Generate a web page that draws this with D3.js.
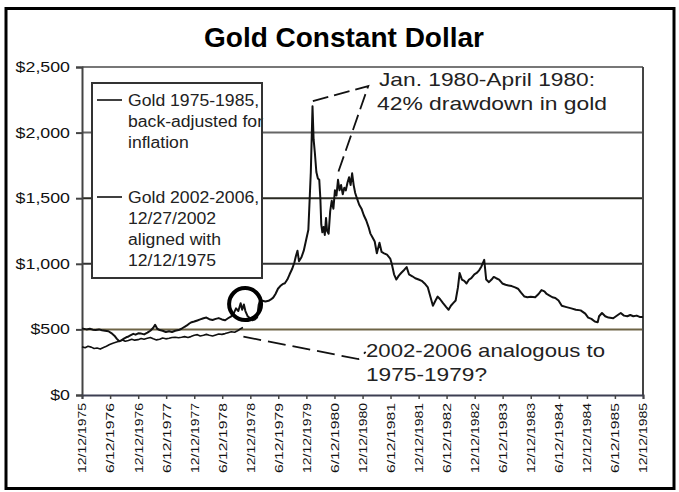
<!DOCTYPE html>
<html>
<head>
<meta charset="UTF-8">
<script src="https://d3js.org/d3.v7.min.js"></script>
<title>Gold Constant Dollar</title>
<style>
  html, body { margin:0; padding:0; background:#fff; }
  svg { display:block; font-family:"Liberation Sans", Arial, sans-serif; }
</style>
</head>
<body>
<div id="chart"></div>
<script>
// x axis labels, every 6 months
var xTickLabels = ["12/12/1975","6/12/1976","12/12/1976","6/12/1977","12/12/1977","6/12/1978",
  "12/12/1978","6/12/1979","12/12/1979","6/12/1980","12/12/1980","6/12/1981","12/12/1981",
  "6/12/1982","12/12/1982","6/12/1983","12/12/1983","6/12/1984","12/12/1984","6/12/1985","12/12/1985"];
var yTickValues = [0, 500, 1000, 1500, 2000, 2500];

// Gold 1975-1985, back-adjusted for inflation  [date, $]
var gold1975 = [
  ["1975-12-12",508],["1976-01-10",500],["1976-02-01",505],["1976-02-20",498],["1976-03-10",495],
  ["1976-04-01",500],["1976-04-20",494],["1976-05-10",490],["1976-06-01",486],["1976-06-20",472],
  ["1976-07-10",452],["1976-07-25",430],["1976-08-10",410],["1976-08-25",416],["1976-09-10",430],
  ["1976-09-25",440],["1976-10-10",446],["1976-10-25",456],["1976-11-10",466],["1976-11-25",460],
  ["1976-12-12",470],["1977-01-01",468],["1977-01-20",462],["1977-02-10",475],["1977-03-01",490],
  ["1977-03-20",512],["1977-04-01",535],["1977-04-15",505],["1977-05-01",495],["1977-05-20",490],
  ["1977-06-10",480],["1977-07-01",486],["1977-07-20",480],["1977-08-10",490],["1977-09-01",495],
  ["1977-09-20",505],["1977-10-10",520],["1977-10-25",530],["1977-11-10",545],["1977-11-25",555],
  ["1977-12-12",560],["1978-01-01",568],["1978-01-20",576],["1978-02-10",585],["1978-03-01",590],
  ["1978-03-20",578],["1978-04-10",572],["1978-05-01",580],["1978-05-20",586],["1978-06-10",576],
  ["1978-07-01",570],["1978-07-20",585],["1978-08-10",600],["1978-08-25",620],["1978-09-10",660],
  ["1978-09-25",640],["1978-10-10",700],["1978-10-20",650],["1978-10-31",690],["1978-11-10",640],
  ["1978-11-25",600],["1978-12-10",585],["1978-12-25",570],["1979-01-10",575],["1979-01-25",590],
  ["1979-02-05",690],["1979-02-15",725],["1979-03-01",718],["1979-03-20",712],["1979-04-10",718],
  ["1979-04-25",728],["1979-05-10",742],["1979-05-25",770],["1979-06-10",810],["1979-06-25",830],
  ["1979-07-10",845],["1979-07-25",852],["1979-08-10",880],["1979-08-25",920],["1979-09-10",960],
  ["1979-09-25",1010],["1979-10-05",1060],["1979-10-15",1100],["1979-10-25",1020],["1979-11-10",1050],
  ["1979-11-25",1100],["1979-12-10",1180],["1979-12-25",1260],["1980-01-10",1700],["1980-01-21",2200],
  ["1980-01-28",1950],["1980-02-05",1850],["1980-02-15",1700],["1980-02-25",1650],["1980-03-05",1640],
  ["1980-03-12",1500],["1980-03-18",1300],["1980-03-25",1240],["1980-04-02",1280],["1980-04-10",1220],
  ["1980-04-18",1350],["1980-04-25",1250],["1980-05-05",1230],["1980-05-15",1400],["1980-05-25",1480],
  ["1980-06-05",1420],["1980-06-15",1560],["1980-06-25",1520],["1980-07-05",1640],["1980-07-15",1560],
  ["1980-07-25",1600],["1980-08-05",1530],["1980-08-15",1580],["1980-08-25",1560],["1980-09-05",1620],
  ["1980-09-15",1660],["1980-09-25",1600],["1980-10-05",1690],["1980-10-15",1600],["1980-10-25",1540],
  ["1980-11-05",1500],["1980-11-20",1450],["1980-12-05",1420],["1980-12-20",1370],["1981-01-05",1330],
  ["1981-01-20",1280],["1981-02-01",1230],["1981-02-15",1200],["1981-03-01",1170],["1981-03-15",1080],
  ["1981-04-01",1160],["1981-04-15",1090],["1981-05-01",1080],["1981-05-20",1070],["1981-06-10",1040],
  ["1981-06-20",1000],["1981-07-05",920],["1981-07-20",880],["1981-08-05",910],["1981-08-20",930],
  ["1981-09-10",955],["1981-09-25",975],["1981-10-10",920],["1981-11-01",905],["1981-11-20",890],
  ["1981-12-12",880],["1982-01-01",870],["1982-01-20",850],["1982-02-10",820],["1982-03-01",740],
  ["1982-03-15",680],["1982-04-01",720],["1982-04-15",750],["1982-05-01",730],["1982-05-20",700],
  ["1982-06-10",670],["1982-06-25",650],["1982-07-10",680],["1982-07-25",700],["1982-08-10",720],
  ["1982-08-25",820],["1982-09-05",930],["1982-09-20",880],["1982-10-05",870],["1982-10-20",850],
  ["1982-11-05",880],["1982-11-20",890],["1982-12-10",920],["1982-12-25",930],["1983-01-10",950],
  ["1983-01-25",980],["1983-02-12",1030],["1983-02-25",880],["1983-03-15",860],["1983-04-01",880],
  ["1983-04-15",900],["1983-05-01",890],["1983-05-20",880],["1983-06-10",850],["1983-07-01",840],
  ["1983-07-20",835],["1983-08-10",830],["1983-09-01",820],["1983-09-20",810],["1983-10-10",780],
  ["1983-11-01",750],["1983-11-20",745],["1983-12-12",748],["1984-01-10",745],["1984-02-01",770],
  ["1984-02-20",800],["1984-03-10",790],["1984-03-25",770],["1984-04-10",760],["1984-05-01",745],
  ["1984-05-20",740],["1984-06-10",720],["1984-07-01",680],["1984-08-01",670],["1984-09-01",660],
  ["1984-10-01",650],["1984-11-01",645],["1984-12-01",620],["1984-12-20",590],["1985-01-10",580],
  ["1985-02-01",560],["1985-02-20",555],["1985-03-01",600],["1985-03-20",625],["1985-04-10",600],
  ["1985-05-01",590],["1985-06-01",585],["1985-07-01",610],["1985-07-20",625],["1985-08-10",605],
  ["1985-09-01",600],["1985-09-20",610],["1985-10-10",600],["1985-11-01",605],["1985-11-20",595],
  ["1985-12-12",595]
];

// Gold 2002-2006 (real dates); 12/27/2002 is aligned with 12/12/1975
var gold2002 = [
  ["2002-12-27",368],["2003-01-16",360],["2003-02-04",372],["2003-02-25",365],["2003-03-16",355],
  ["2003-04-04",358],["2003-04-25",350],["2003-05-16",362],["2003-06-04",372],["2003-06-25",385],
  ["2003-07-16",395],["2003-08-04",402],["2003-08-25",410],["2003-09-16",420],["2003-10-05",410],
  ["2003-10-25",415],["2003-11-16",425],["2003-12-05",418],["2003-12-27",422],["2004-01-16",430],
  ["2004-02-04",425],["2004-02-25",432],["2004-03-16",438],["2004-04-04",428],["2004-04-25",420],
  ["2004-05-16",425],["2004-06-04",435],["2004-06-25",428],["2004-07-16",432],["2004-08-04",438],
  ["2004-08-25",440],["2004-09-16",436],["2004-10-05",440],["2004-10-25",445],["2004-11-16",438],
  ["2004-12-05",445],["2004-12-27",455],["2005-01-16",460],["2005-02-04",450],["2005-02-25",455],
  ["2005-03-16",462],["2005-04-04",456],["2005-04-25",450],["2005-05-16",458],["2005-06-04",465],
  ["2005-06-25",462],["2005-07-16",468],["2005-08-04",475],["2005-08-25",482],["2005-09-16",478],
  ["2005-10-05",490],["2005-10-25",505],["2005-11-09",515]
];
var alignFrom = "2002-12-27", alignTo = "1975-12-12";

// call-outs, in chart coordinates [date, $]
var drawdownCallout = [["1980-01-23",2240],["1981-01-18",2355],["1980-06-25",1660]];
var analogCallout = [["1978-10-28",445],["1980-11-15",274],["1981-01-01",328]];
var circleMark = ["1978-11-08",693];

var width = 679, height = 492;
var margin = {top: 67, right: 36, bottom: 97, left: 82};

var parseIso = d3.timeParse("%Y-%m-%d");
var parseTick = d3.timeParse("%m/%d/%Y");
var tickDates = xTickLabels.map(parseTick);
var shift = parseIso(alignFrom) - parseIso(alignTo);

var svg = d3.select("#chart").append("svg")
  .attr("width", width).attr("height", height);

var x = d3.scaleTime()
  .domain([tickDates[0], tickDates[tickDates.length - 1]])
  .range([margin.left, width - margin.right]);
var y = d3.scaleLinear()
  .domain([0, 2500])
  .range([height - margin.bottom, margin.top]);

// stretch text horizontally like the scanned original
function stretch(sel, k) {
  sel.each(function() {
    var w = this.getComputedTextLength();
    this.setAttribute("textLength", w * k);
    this.setAttribute("lengthAdjust", "spacingAndGlyphs");
  });
}

// outer frame
svg.append("rect")
  .attr("x", 6).attr("y", 8.5).attr("width", 668).attr("height", 480)
  .attr("fill", "none").attr("stroke", "#000").attr("stroke-width", 3);

// title
svg.append("text")
  .attr("x", 344).attr("y", 47)
  .attr("text-anchor", "middle")
  .style("font-size", "28px").style("font-weight", "bold")
  .text("Gold Constant Dollar");

// gridlines
var gridColors = {500: "#6e6446", 1000: "#333", 1500: "#2a2a22", 2000: "#666", 2500: "#777"};
svg.append("g").selectAll("line")
  .data(yTickValues.slice(1))
  .enter().append("line")
  .attr("x1", x.range()[0]).attr("x2", x.range()[1])
  .attr("y1", function(d) { return y(d); })
  .attr("y2", function(d) { return y(d); })
  .attr("stroke", function(d) { return gridColors[d]; })
  .attr("stroke-width", 2);

// right border of the plot
svg.append("line")
  .attr("x1", x.range()[1]).attr("x2", x.range()[1])
  .attr("y1", y(2500)).attr("y2", y(0))
  .attr("stroke", "#444").attr("stroke-width", 2);

// y axis
var yAxis = svg.append("g")
  .attr("transform", "translate(" + margin.left + ",0)")
  .call(d3.axisLeft(y).tickValues(yTickValues).tickSize(6).tickPadding(6)
    .tickFormat(function(d) { return "$" + d3.format(",")(d); }));
yAxis.select(".domain").attr("stroke", "#444").attr("stroke-width", 2);
yAxis.selectAll(".tick line").attr("stroke", "#444").attr("stroke-width", 2);
yAxis.selectAll("text")
  .style("font-size", "14px").style("font-family", "Liberation Sans, Arial, sans-serif")
  .attr("fill", "#111");
stretch(yAxis.selectAll("text"), 1.27);

// x axis
var xAxis = svg.append("g")
  .attr("transform", "translate(0," + y(0) + ")")
  .call(d3.axisBottom(x).tickValues(tickDates).tickSize(4)
    .tickFormat(function(d, i) { return xTickLabels[i]; }));
xAxis.select(".domain").attr("stroke", "#3c3f52").attr("stroke-width", 2);
xAxis.selectAll(".tick line").attr("stroke", "#444").attr("stroke-width", 1.5);
xAxis.selectAll("text")
  .attr("transform", "rotate(-90)")
  .attr("x", -8).attr("y", 0).attr("dy", "0.35em")
  .style("text-anchor", "end")
  .style("font-size", "11px").style("font-family", "Liberation Sans, Arial, sans-serif")
  .attr("fill", "#111")
  .attr("textLength", 70).attr("lengthAdjust", "spacingAndGlyphs");

// series
var line = d3.line()
  .x(function(d) { return x(d[0]); })
  .y(function(d) { return y(d[1]); });

var s1975 = gold1975.map(function(d) { return [parseIso(d[0]), d[1]]; });
var s2002 = gold2002.map(function(d) { return [new Date(parseIso(d[0]) - shift), d[1]]; });

svg.append("path").datum(s2002)
  .attr("d", line).attr("fill", "none")
  .attr("stroke", "#111").attr("stroke-width", 1.6).attr("stroke-linejoin", "round");
svg.append("path").datum(s1975)
  .attr("d", line).attr("fill", "none")
  .attr("stroke", "#111").attr("stroke-width", 2).attr("stroke-linejoin", "round");

// legend box
var legend = svg.append("g");
legend.append("rect")
  .attr("x", 92).attr("y", 83).attr("width", 170).attr("height", 195)
  .attr("fill", "#fff");
var legendItems = [
  {y: 100, lines: ["Gold 1975-1985,", "back-adjusted for", "inflation"]},
  {y: 197, lines: ["Gold 2002-2006,", "12/27/2002", "aligned with", "12/12/1975"]}
];
legendItems.forEach(function(item) {
  legend.append("line")
    .attr("x1", 97).attr("x2", 122)
    .attr("y1", item.y).attr("y2", item.y)
    .attr("stroke", "#111").attr("stroke-width", 1.6);
  item.lines.forEach(function(t, i) {
    legend.append("text")
      .attr("x", 128).attr("y", item.y + 6 + i * 21)
      .style("font-size", "16px").attr("fill", "#222")
      .text(t);
  });
});
stretch(legend.selectAll("text"), 1.1);
legend.append("rect")
  .attr("x", 92).attr("y", 83).attr("width", 170).attr("height", 195)
  .attr("fill", "none").attr("stroke", "#333").attr("stroke-width", 2);

// call-outs
var callLine = d3.line()
  .x(function(d) { return x(parseIso(d[0])); })
  .y(function(d) { return y(d[1]); });
svg.append("path").datum(drawdownCallout)
  .attr("d", callLine).attr("fill", "none")
  .attr("stroke", "#111").attr("stroke-width", 1.8).attr("stroke-dasharray", "16,6");
svg.append("path").datum(analogCallout)
  .attr("d", callLine).attr("fill", "none")
  .attr("stroke", "#111").attr("stroke-width", 1.8).attr("stroke-dasharray", "18,7");

svg.append("circle")
  .attr("cx", x(parseIso(circleMark[0]))).attr("cy", y(circleMark[1]))
  .attr("r", 16)
  .attr("fill", "none").attr("stroke", "#000").attr("stroke-width", 4);

var notes = [
  {x: 379, y: 86, t: "Jan. 1980-April 1980:", w: 216},
  {x: 377, y: 110, t: "42% drawdown in gold", w: 230},
  {x: 366, y: 357, t: "2002-2006 analogous to", w: 239},
  {x: 366, y: 381, t: "1975-1979?", w: 121}
];
svg.append("g").selectAll("text")
  .data(notes)
  .enter().append("text")
  .attr("x", function(d) { return d.x; })
  .attr("y", function(d) { return d.y; })
  .attr("textLength", function(d) { return d.w; })
  .attr("lengthAdjust", "spacingAndGlyphs")
  .style("font-size", "19px").attr("fill", "#222")
  .text(function(d) { return d.t; });
</script>
</body>
</html>
